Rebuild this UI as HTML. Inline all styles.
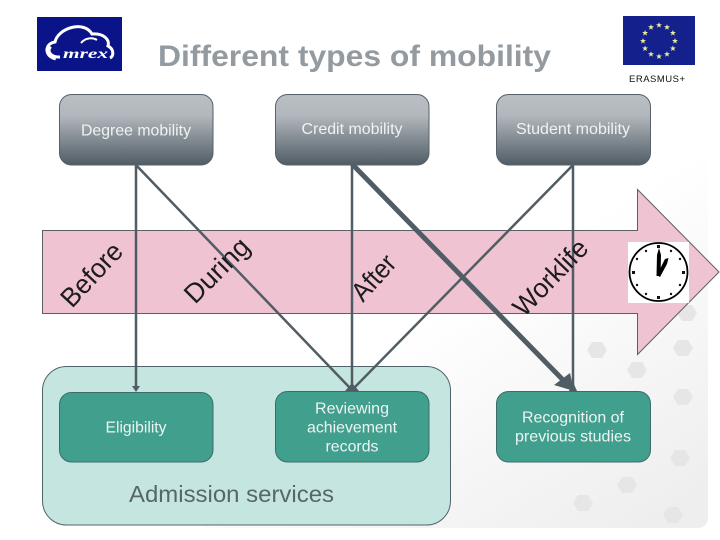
<!DOCTYPE html>
<html>
<head>
<meta charset="utf-8">
<title>Different types of mobility</title>
<style>
html,body{margin:0;padding:0;background:#fff;width:720px;height:540px;overflow:hidden}
svg{display:block}
text{font-family:"Liberation Sans",Arial,sans-serif}
.w{fill:#eef3f3;font-size:16px;text-anchor:middle}
.r{font-size:27px;fill:#1c1c1c}
</style>
</head>
<body>
<svg width="720" height="540" viewBox="0 0 720 540" xmlns="http://www.w3.org/2000/svg">
<defs>
<linearGradient id="bg" x1="0.25" y1="0.05" x2="0.95" y2="0.95">
<stop offset="0" stop-color="#ffffff"/>
<stop offset="0.4" stop-color="#ffffff"/>
<stop offset="0.7" stop-color="#f6f6f6"/>
<stop offset="1" stop-color="#eeeeee"/>
</linearGradient>
<linearGradient id="gr" x1="0" y1="0" x2="0" y2="1">
<stop offset="0" stop-color="#b9bfc4"/>
<stop offset="0.3" stop-color="#b1b7bc"/>
<stop offset="1" stop-color="#505c65"/>
</linearGradient>
<polygon id="s" points="0,-3 .8,-1 3,-1 1.2,.4 1.9,2.6 0,1.2 -1.9,2.6 -1.2,.4 -3,-1 -.8,-1" fill="#e8ec9c"/>
<polygon id="h" points="-10,0 -5,-8 5,-8 10,0 5,8 -5,8" fill="#e6e6e6"/>
</defs>

<rect x="200" y="130" width="508" height="398" rx="10" fill="url(#bg)"/>
<use href="#h" x="637" y="370"/><use href="#h" x="683" y="397"/><use href="#h" x="680" y="458"/>
<use href="#h" x="627" y="485"/><use href="#h" x="583" y="503"/><use href="#h" x="673" y="515"/>
<use href="#h" x="597" y="350"/><use href="#h" x="683" y="348"/><use href="#h" x="687" y="313"/>

<!-- logo -->
<rect x="37" y="17" width="85" height="54" fill="#0a1488"/>
<path d="M60 57 C45 58 43 44 55 42 C58 28 84 20 92 34 C104 33 110 40 108 46 C114 49 114 56 110 58" fill="none" stroke="#fff" stroke-width="3"/>
<path d="M50 46 C46 50 48 56 56 58" fill="none" stroke="#fff" stroke-width="5"/>
<path d="M81 43 C85 38 92 37 97 40" fill="none" stroke="#fff" stroke-width="2"/>
<text x="63" y="58" style="font-family:'Liberation Serif',serif;font-style:italic;font-weight:bold;font-size:14px" fill="#fff" textLength="45" lengthAdjust="spacingAndGlyphs">mrex</text>

<!-- flag -->
<rect x="623" y="16" width="72" height="49" fill="#14208c"/>
<use href="#s" x="659" y="25.2"/><use href="#s" x="667" y="27.3"/><use href="#s" x="672.9" y="33"/>
<use href="#s" x="675" y="41"/><use href="#s" x="672.9" y="48.5"/><use href="#s" x="667" y="54.2"/>
<use href="#s" x="659" y="56.5"/><use href="#s" x="651" y="54.2"/><use href="#s" x="645.1" y="48.5"/>
<use href="#s" x="643" y="41"/><use href="#s" x="645.1" y="33"/><use href="#s" x="651" y="27.3"/>
<text x="629" y="82" font-size="9.5" fill="#111" textLength="56">ERASMUS+</text>

<text x="158" y="66" font-size="30" font-weight="bold" fill="#939ba1" textLength="393" lengthAdjust="spacingAndGlyphs">Different types of mobility</text>

<!-- arrow band -->
<polygon points="42.500,230.500 637.500,230.500 637.500,189.500 719,272 637.500,354.500 637.500,313.500 42.500,313.500" fill="#f0c3d3" stroke="#5b5f66" stroke-width="1"/>

<!-- admission container -->
<rect x="42.500" y="366.500" width="408" height="158.500" rx="24" fill="#c5e6e0" stroke="#4f6468" stroke-width="1"/>

<!-- connectors -->
<g stroke="#515d65" fill="none" stroke-linecap="round">
<line x1="136" y1="165" x2="136" y2="388" stroke-width="2.500"/>
<line x1="136" y1="165" x2="350" y2="388" stroke-width="2.500"/>
<line x1="352" y1="165" x2="352" y2="388" stroke-width="2.500"/>
<line x1="573" y1="165" x2="354" y2="388" stroke-width="2.500"/>
<line x1="573" y1="165" x2="573" y2="388" stroke-width="2.500"/>
<line x1="353" y1="165" x2="565" y2="382" stroke-width="5"/>
</g>
<polygon points="132,386 140,386 136,392" fill="#515d65"/>
<polygon points="345,391 359,391 352,383" fill="#515d65"/>
<polygon points="574,391 570,373 554,385" fill="#515d65"/>
<polygon points="569,391 577,391 573,382" fill="#515d65"/>

<!-- top boxes -->
<rect x="59.500" y="94.500" width="153.500" height="70.500" rx="12" fill="url(#gr)" stroke="#56616a"/>
<rect x="275.500" y="94.500" width="153.500" height="70.500" rx="12" fill="url(#gr)" stroke="#56616a"/>
<rect x="496.500" y="94.500" width="154" height="70.500" rx="12" fill="url(#gr)" stroke="#56616a"/>
<text class="w" x="136" y="135.500" textLength="110" lengthAdjust="spacingAndGlyphs">Degree mobility</text>
<text class="w" x="352" y="134" textLength="101" lengthAdjust="spacingAndGlyphs">Credit mobility</text>
<text class="w" x="573" y="134" textLength="114" lengthAdjust="spacingAndGlyphs">Student mobility</text>

<!-- bottom boxes -->
<rect x="59.500" y="392.500" width="153.500" height="69.500" rx="12" fill="#41a08d" stroke="#3d6b6a"/>
<rect x="275.500" y="391.500" width="153.500" height="70.500" rx="12" fill="#41a08d" stroke="#3d6b6a"/>
<rect x="496.500" y="391.500" width="154" height="70.500" rx="12" fill="#41a08d" stroke="#3d6b6a"/>
<text class="w" x="136" y="432.500" textLength="61" lengthAdjust="spacingAndGlyphs">Eligibility</text>
<text class="w" x="352" y="413.500" textLength="74" lengthAdjust="spacingAndGlyphs">Reviewing</text>
<text class="w" x="352" y="432.500" textLength="90" lengthAdjust="spacingAndGlyphs">achievement</text>
<text class="w" x="352" y="451.500" textLength="53" lengthAdjust="spacingAndGlyphs">records</text>
<text class="w" x="573" y="422.500" textLength="102" lengthAdjust="spacingAndGlyphs">Recognition of</text>
<text class="w" x="573" y="441.500" textLength="116" lengthAdjust="spacingAndGlyphs">previous studies</text>
<text x="129" y="502" font-size="23" fill="#56666a" textLength="205" lengthAdjust="spacingAndGlyphs">Admission services</text>

<!-- rotated labels -->
<text class="r" transform="translate(72,309) rotate(-47)" textLength="77" lengthAdjust="spacingAndGlyphs">Before</text>
<text class="r" transform="translate(195,305) rotate(-45)" textLength="80" lengthAdjust="spacingAndGlyphs">During</text>
<text class="r" transform="translate(363,303) rotate(-48)" textLength="52" lengthAdjust="spacingAndGlyphs">After</text>
<text class="r" transform="translate(524,318) rotate(-46)" textLength="95" lengthAdjust="spacingAndGlyphs">Worklife</text>

<!-- clock -->
<rect x="628" y="242" width="61" height="61" fill="#fff"/>
<circle cx="658.500" cy="272" r="29" fill="#fff" stroke="#000" stroke-width="1.800"/>
<g fill="#111">
<rect x="657" y="245" width="3" height="3"/><rect x="657" y="296" width="3" height="3"/>
<rect x="632" y="271" width="3" height="3"/><rect x="682" y="271" width="3" height="3"/>
<circle cx="671" cy="251" r="1.200"/><circle cx="680" cy="259" r="1.200"/><circle cx="680" cy="285" r="1.200"/><circle cx="671" cy="294" r="1.200"/>
<circle cx="646" cy="294" r="1.200"/><circle cx="637" cy="285" r="1.200"/><circle cx="637" cy="259" r="1.200"/><circle cx="646" cy="251" r="1.200"/>
</g>
<polygon points="656.500,276 657,255 659,248 661,255 660.500,276" fill="#000"/>
<polygon points="657,275 665,259 668.500,258 667,264 660,277" fill="#000"/>
</svg>
</body>
</html>
